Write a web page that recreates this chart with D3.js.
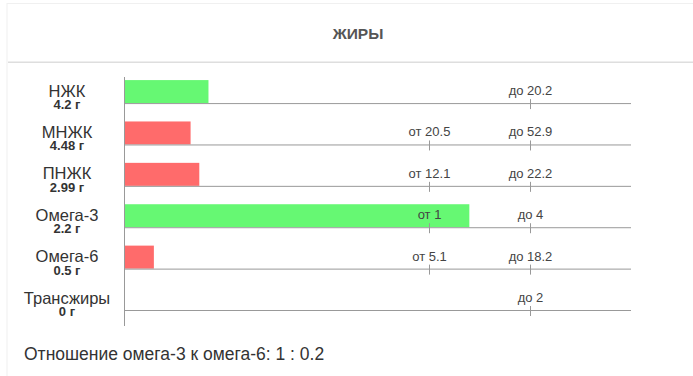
<!DOCTYPE html>
<html><head><meta charset="utf-8">
<script src="https://cdn.jsdelivr.net/npm/d3@7"></script>
<style>
html,body{margin:0;padding:0;background:#fff;overflow:hidden;}
svg{display:block;font-family:"Liberation Sans",Arial,sans-serif;}
</style></head>
<body>
<svg id="c" width="693" height="376"></svg>
<script>
const categories = ["НЖК","МНЖК","ПНЖК","Омега-3","Омега-6","Трансжиры"];
const valueLabels = ["4.2 г","4.48 г","2.99 г","2.2 г","0.5 г","0 г"];
const values = [4.2, 4.48, 2.99, 2.2, 0.5, 0];
const normFrom = [null, 20.5, 12.1, 1, 5.1, null];
const normTo = [20.2, 52.9, 22.2, 4, 18.2, 2];
const status = ["ok","bad","bad","ok","bad","ok"];
const title = "ЖИРЫ";
const ratioText = "Отношение омега-3 к омега-6: 1 : 0.2";

const svg = d3.select("#c");
// card
svg.append("rect").attr("x",7).attr("y",3.5).attr("width",720).attr("height",420)
  .attr("fill","none").attr("stroke","#f0f0f0").attr("stroke-width",1);
svg.append("rect").attr("x",8).attr("y",4.5).attr("width",720).attr("height",420).attr("fill","#fff");
svg.append("text").attr("x",358).attr("y",39).attr("text-anchor","middle")
  .attr("font-size",15.5).attr("font-weight","bold").attr("fill","#555").text(title);
svg.append("rect").attr("x",8).attr("y",61.5).attr("width",720).attr("height",1.5).attr("fill","#dedede");

const x0 = 124, xFrom = 428.7, xTo = 530.3, xEnd = 631;
const rowY = d3.scaleBand().domain(categories).range([61.7, 310]).paddingInner(0).paddingOuter(0);
const lineY = d => rowY(d) + rowY.bandwidth();
const colors = {ok:"#66f873", bad:"#ff6b6b"};

function rowScale(i){
  if (normFrom[i] == null) return d3.scaleLinear().domain([0, normTo[i]]).range([x0, xTo]);
  return d3.scaleLinear().domain([0, normFrom[i], normTo[i]]).range([x0, xFrom, xTo]);
}

categories.forEach((c,i)=>{
  const y = lineY(c);
  const s = rowScale(i);
  const g = svg.append("g");
  g.append("rect").attr("x",x0).attr("y",y-23).attr("width",s(values[i])-x0).attr("height",23)
    .attr("fill",colors[status[i]]);
  g.append("line").attr("x1",x0).attr("x2",xEnd).attr("y1",y+0.5).attr("y2",y+0.5)
    .attr("stroke","#999").attr("stroke-width",1);
  const ticks = [];
  if (normFrom[i] != null) ticks.push({v:normFrom[i], t:"от "+normFrom[i]});
  ticks.push({v:normTo[i], t:"до "+normTo[i]});
  ticks.forEach(tk=>{
    const tx = Math.round(s(tk.v))+0.5;
    g.append("line").attr("x1",tx).attr("x2",tx).attr("y1",y-4).attr("y2",y+6)
      .attr("stroke","#999").attr("stroke-width",1);
    g.append("text").attr("x",tx).attr("y",y-8).attr("text-anchor","middle")
      .attr("font-size",13).attr("fill","#444").text(tk.t);
  });
  g.append("text").attr("x",67).attr("y",y-6.5).attr("text-anchor","middle")
    .attr("font-size",16.5).attr("fill","#333").text(c);
  g.append("text").attr("x",67).attr("y",y+6).attr("text-anchor","middle")
    .attr("font-size",13).attr("font-weight","bold").attr("fill","#333").text(valueLabels[i]);
});
svg.append("line").attr("x1",x0+0.5).attr("x2",x0+0.5).attr("y1",77).attr("y2",326)
  .attr("stroke","#999").attr("stroke-width",1);

svg.append("text").attr("x",24).attr("y",360).attr("font-size",17.5).attr("fill","#333").text(ratioText);
</script>
</body></html>
